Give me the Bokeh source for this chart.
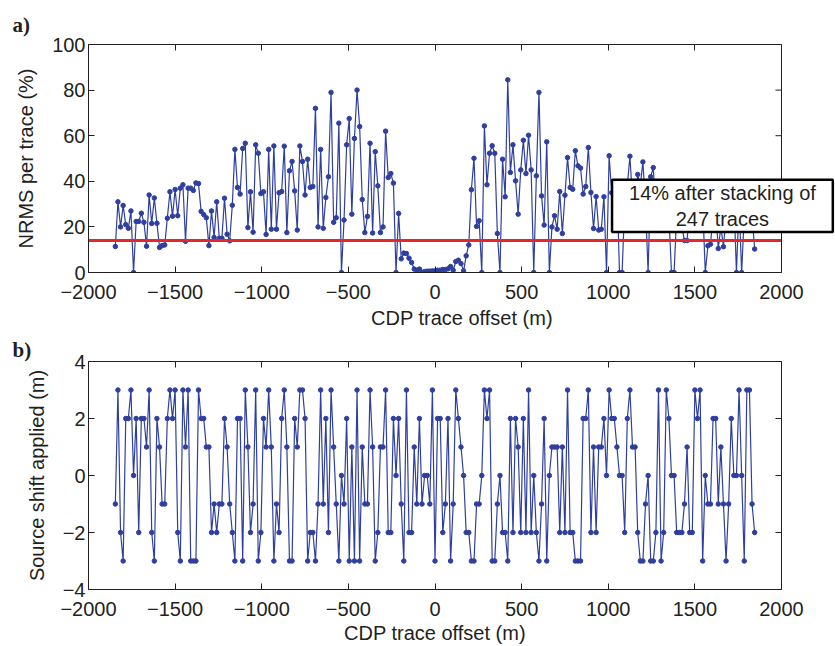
import numpy as np
from bokeh.plotting import figure
from bokeh.layouts import column
from bokeh.models import (Range1d, LinearAxis, Label, Span, FixedTicker,
                          CustomJSTickFormatter)
from bokeh.embed import file_html
from bokeh.resources import INLINE

# CDP trace offsets: 247 traces, evenly spaced
FIRST_OFFSET = -1845
TRACE_SPACING = 15
N_TRACES = 247
offsets = FIRST_OFFSET + TRACE_SPACING * np.arange(N_TRACES)

# NRMS per trace (%)
nrms = [
    11.4, 31, 20, 29.4, 21, 19.4, 27, 0, 22.4, 22.4,
    26, 22, 11.5, 34, 21.5, 32.7, 21.6, 11, 11.8, 12.1,
    23.8, 35.4, 24.7, 36.4, 24.9, 37, 38.5, 13.7, 37, 37,
    36, 39.3, 39, 26.8, 25.4, 24, 11.8, 27, 15.4, 31,
    15, 15, 32.6, 16.8, 13.9, 29.5, 54, 37.3, 34.4, 54.4,
    56.7, 19.7, 35.4, 17.7, 56, 52.3, 34.6, 35.4, 16.7, 54,
    19, 55.5, 19, 35, 35.5, 55.4, 17.5, 44.6, 48.7, 35.8,
    18.6, 55.5, 48.7, 34, 49.7, 37.3, 37.7, 72, 20, 54,
    19.4, 32.9, 42, 79, 22, 24, 65.5, 0, 23, 56,
    67.5, 25.6, 58.8, 80, 64, 32, 17.5, 24.6, 56.7, 17.3,
    53, 38, 17.5, 20, 62, 41.7, 43.4, 39.2, 0, 25.9,
    6, 8.5, 8.3, 6.3, 4.4, 1.5, 1, 1.5, 0.1, 0.4,
    0.6, 0.6, 0.7, 0.7, 1, 1, 1.3, 1.3, 1.6, 2.6,
    1, 4.8, 5.4, 3.9, 0.7, 7.3, 12.1, 36.3, 50.1, 20.2,
    22.7, 0, 64.3, 38.5, 52.3, 55.6, 52.3, 17.1, 0, 49.7,
    33.2, 84.5, 43.9, 56, 40.2, 25.6, 45, 58, 43.4, 60.2,
    45, 0, 42.4, 79, 33.6, 20.8, 57.3, 0, 20, 24.9,
    19, 35.5, 17.1, 33.9, 50.4, 37.3, 36.5, 53.4, 46.8, 45.8,
    34.4, 37.7, 54.8, 35.1, 19.3, 33.3, 18.6, 19, 33.2, 0,
    51.2, 35, 28, 38, 0, 0, 30, 38, 51, 32,
    28, 43, 38, 48.5, 30, 0, 42, 46, 25, 30,
    22, 28, 35, 25, 0, 0, 25, 33, 20, 14,
    14, 30, 25, 35, 28, 22, 30, 0, 11.7, 12.4,
    25, 28, 10.5, 20, 11.3, 25, 30, 20, 33, 0,
    30, 0, 25, 30, 35, 25, 10.3,
]

# Source shift applied per trace (m)
shift = [
    -1, 3, -2, -3, 2, 2, 3, 0, 2, -2,
    2, 2, 1, 3, -2, -3, 2, 1, -1, -1,
    2, 3, 2, 3, -2, -3, 3, 1, 3, -3,
    -3, -3, 3, 2, 2, 1, 1, -2, -1, -2,
    -1, -1, 2, 1, -1, -2, -3, 2, 2, -3,
    3, 1, -2, -1, 3, -3, -2, 2, 1, 3,
    1, -3, -1, -2, 2, 3, 1, -3, -3, 2,
    1, 3, 3, 2, -3, -2, -2, -3, -1, 3,
    -1, 2, -2, 3, 1, -1, -3, 0, -1, 2,
    -3, 1, -3, 3, -3, 1, -1, -1, 3, 1,
    -3, -2, 1, 1, 3, -2, -2, 2, 0, 2,
    -1, -3, 3, -2, -2, 1, -1, 2, -1, 0,
    0, -1, 3, -3, 2, 2, -2, -1, 2, -3,
    -1, 3, 2, 1, 0, -2, -2, -3, -3, -1,
    -1, 0, 3, 2, 3, -3, -3, -1, 0, -2,
    -2, -3, 2, -2, 2, 1, -2, 2, -2, 3,
    -2, 0, -2, -3, -1, 2, -3, 0, 1, 1,
    1, -2, 1, -2, 3, -2, -2, -3, -3, -3,
    2, 2, 3, -2, 1, -2, 1, 1, 2, 0,
    3, 2, 2, 1, 0, 0, -2, 2, 3, 1,
    1, -2, -3, -3, -1, 0, -3, -3, -2, 3,
    -3, -2, 3, 2, 0, 0, -2, -2, -2, -1,
    1, -2, -2, 3, 2, 3, -3, 0, -1, -1,
    2, 2, -1, 1, -1, -3, -1, 2, 0, 0,
    3, 0, -3, 3, 3, -1, -2,
]

# NRMS of the stacked trace (%)
STACKED_NRMS = 14
NOTE_TEXT = "14% after stacking of\n247 traces"

X_MIN, X_MAX = -2000, 2000
X_TICKS = [-2000, -1500, -1000, -500, 0, 500, 1000, 1500, 2000]
NRMS_TICKS = [0, 20, 40, 60, 80, 100]
SHIFT_TICKS = [-4, -2, 0, 2, 4]

BLUE = "#2f3f9e"
RED = "#e5262b"
INK = "#231f20"
FONT = "Liberation Sans"

FRAME_W = 693          # px between x = -2000 and x = 2000
FRAME_H = 228
PX_PER_M = FRAME_W / (X_MAX - X_MIN)
TICK_LEN = 6

minus_fmt = "return tick < 0 ? '\\u2212' + Math.abs(tick) : String(tick);"


def blank_axis(ticks, **kw):
    """Axis that only draws its line and inward ticks (box edges)."""
    return LinearAxis(ticker=FixedTicker(ticks=ticks),
                      formatter=CustomJSTickFormatter(code="return '';"),
                      major_label_text_font_size="0px",
                      axis_line_color=INK, major_tick_line_color=INK,
                      major_tick_in=TICK_LEN, major_tick_out=0,
                      minor_tick_in=0, minor_tick_out=0,
                      major_label_standoff=0, **kw)


def make_panel(y_range, y_ticks, y_label, tag, tag_standoff, extra_right_m,
               border_top, border_bottom, x_standoff, x_label_standoff):
    extra_px = round(extra_right_m * PX_PER_M)
    p = figure(frame_width=FRAME_W + extra_px, frame_height=FRAME_H,
               x_range=Range1d(X_MIN, X_MAX + extra_right_m), y_range=y_range,
               output_backend="svg", toolbar_location=None,
               min_border_left=88, min_border_right=54 - extra_px,
               min_border_top=border_top, min_border_bottom=border_bottom,
               background_fill_color="white", border_fill_color="white",
               outline_line_color=None)
    p.grid.visible = False

    p.title.text = tag
    p.title.align = "left"
    p.title.offset = -76
    p.title.standoff = tag_standoff
    p.title.text_font = "Liberation Serif"
    p.title.text_font_style = "bold"
    p.title.text_font_size = "21px"
    p.title.text_color = INK

    p.xaxis.ticker = FixedTicker(ticks=X_TICKS)
    p.xaxis.bounds = (X_MIN, X_MAX)
    p.yaxis.ticker = FixedTicker(ticks=y_ticks)
    p.xaxis.axis_label = "CDP trace offset (m)"
    p.yaxis.axis_label = y_label
    for ax in (p.xaxis[0], p.yaxis[0]):
        ax.formatter = CustomJSTickFormatter(code=minus_fmt)
        ax.major_label_text_font = FONT
        ax.major_label_text_font_size = "20px"
        ax.major_label_text_color = INK
        ax.axis_label_text_font = FONT
        ax.axis_label_text_font_size = "20px"
        ax.axis_label_text_font_style = "normal"
        ax.axis_label_text_color = INK
        ax.axis_line_color = INK
        ax.major_tick_line_color = INK
        ax.major_tick_in = TICK_LEN
        ax.major_tick_out = 0
        ax.minor_tick_in = 0
        ax.minor_tick_out = 0
    p.xaxis.major_label_standoff = x_standoff
    p.xaxis.axis_label_standoff = x_label_standoff
    p.yaxis.major_label_standoff = 3
    p.yaxis.axis_label_standoff = 12

    # top edge of the box with its inward ticks
    p.add_layout(blank_axis(X_TICKS, bounds=(X_MIN, X_MAX)), "above")

    # right edge of the box with its inward ticks
    if extra_px == 0:
        p.add_layout(blank_axis(y_ticks), "right")
    else:
        p.add_layout(Span(location=X_MAX, dimension="height",
                          line_color=INK, line_width=1))
        tick_m = TICK_LEN / PX_PER_M
        p.segment(x0=[X_MAX - tick_m] * len(y_ticks), x1=[X_MAX] * len(y_ticks),
                  y0=y_ticks, y1=y_ticks, line_color=INK, line_width=1)
    return p


# a) NRMS per trace; the frame runs on past x = 2000 so that the
# note box can hang over the right edge of the axes
p1 = make_panel(Range1d(0, 100), NRMS_TICKS, "NRMS per trace (%)", "a)", 15,
                54 / PX_PER_M, 44, 62, 12, 5)
p1.line(offsets, nrms, line_color=BLUE, line_width=1.2)
p1.scatter(offsets, nrms, size=4.5, fill_color=BLUE, line_color=BLUE)
p1.line([X_MIN, X_MAX], [STACKED_NRMS, STACKED_NRMS], line_color=RED,
        line_width=3)
p1.add_layout(Label(x=1659, y=29.2, text=NOTE_TEXT, text_align="center",
                    text_baseline="middle", text_font=FONT,
                    text_font_size="20px", text_color=INK,
                    background_fill_color="white", border_line_color="black",
                    border_line_width=2.5, padding=(17, 17, 2, 2)))

# b) source shift applied
p2 = make_panel(Range1d(-4, 4), SHIFT_TICKS, "Source shift applied (m)", "b)", 0,
                0, 27, 57, 12, 3)
p2.line(offsets, shift, line_color=BLUE, line_width=1.2)
p2.scatter(offsets, shift, size=4.5, fill_color=BLUE, line_color=BLUE)

layout = column(p1, p2, spacing=0)
open("out.html", "w").write(file_html(layout, INLINE))
